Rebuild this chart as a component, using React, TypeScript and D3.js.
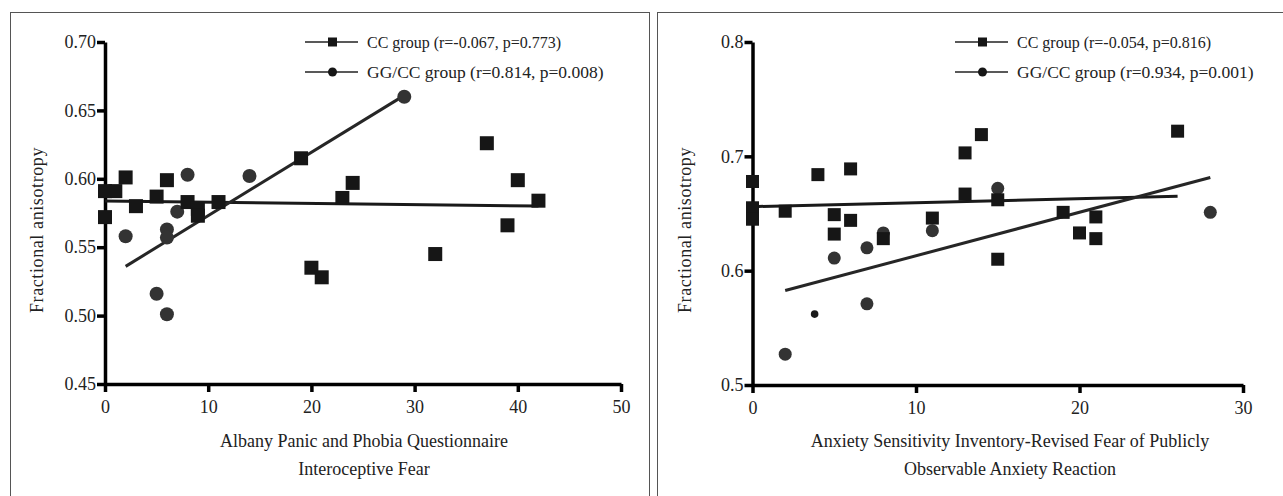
import React, { useEffect, useRef } from "react";
import * as d3 from "d3";

// left panel: Albany Panic and Phobia Questionnaire, Interoceptive Fear
const apX = [0, 0, 1, 2, 3, 5, 6, 8, 9, 9, 11, 19, 20, 21, 23, 24, 32, 37, 39, 40, 42];
const apY = [0.591, 0.572, 0.591, 0.601, 0.580, 0.587, 0.599, 0.583, 0.578, 0.573, 0.583, 0.615, 0.535, 0.528, 0.586, 0.597, 0.545, 0.626, 0.566, 0.599, 0.584];
const apGgX = [2, 5, 6, 6, 6, 7, 8, 14, 29];
const apGgY = [0.558, 0.516, 0.563, 0.557, 0.501, 0.576, 0.603, 0.602, 0.660];
const apFitCcX = [0, 42];
const apFitCcY = [0.5838, 0.5801];
const apFitGgX = [2, 29];
const apFitGgY = [0.536, 0.661];
const apXTicks = [0, 10, 20, 30, 40, 50];
const apYTicks = [0.45, 0.5, 0.55, 0.6, 0.65, 0.7];
const apLegend = ["CC group (r=-0.067, p=0.773)", "GG/CC group (r=0.814, p=0.008)"];
const apTitle = ["Albany Panic and Phobia Questionnaire", "Interoceptive Fear"];

// right panel: ASI-R Fear of Publicly Observable Anxiety Reaction
const asX = [0, 0, 0, 2, 4, 5, 5, 6, 6, 8, 11, 13, 13, 14, 15, 15, 19, 20, 21, 21, 26];
const asY = [0.678, 0.655, 0.645, 0.652, 0.684, 0.649, 0.632, 0.689, 0.644, 0.628, 0.646, 0.703, 0.667, 0.719, 0.662, 0.610, 0.651, 0.633, 0.647, 0.628, 0.722];
const asGgX = [2, 5, 7, 7, 8, 11, 15, 28];
const asGgY = [0.527, 0.611, 0.620, 0.571, 0.633, 0.635, 0.672, 0.651];
const asGgSmallX = [3.8];
const asGgSmallY = [0.562];
const asFitCcX = [0, 26];
const asFitCcY = [0.656, 0.665];
const asFitGgX = [2, 28];
const asFitGgY = [0.5826, 0.6815];
const asXTicks = [0, 10, 20, 30];
const asYTicks = [0.5, 0.6, 0.7, 0.8];
const asLegend = ["CC group (r=-0.054, p=0.816)", "GG/CC group (r=0.934, p=0.001)"];
const asTitle = ["Anxiety Sensitivity Inventory-Revised Fear of Publicly", "Observable Anxiety Reaction"];

const FONT = "'Liberation Serif', 'DejaVu Serif', serif";

function drawPanel(svg, p) {
  const x = d3.scaleLinear().domain(p.xDomain).range([p.left, p.right]);
  const y = d3.scaleLinear().domain(p.yDomain).range([p.bottom, p.top]);
  const g = svg.append("g");

  // frame
  g.append("rect")
    .attr("x", p.frame[0] + 0.5)
    .attr("y", 12.5)
    .attr("width", p.frame[1] - p.frame[0])
    .attr("height", 520)
    .attr("fill", "none")
    .attr("stroke", "#555")
    .attr("stroke-width", 1);

  // axes
  const xAxis = g.append("g")
    .attr("transform", `translate(0,${p.bottom})`)
    .call(d3.axisBottom(x).tickValues(p.xTicks).tickSize(8).tickSizeOuter(0).tickPadding(8).tickFormat(d3.format("d")));
  const yAxis = g.append("g")
    .attr("transform", `translate(${p.left},0)`)
    .call(d3.axisLeft(y).tickValues(p.yTicks).tickSize(8).tickSizeOuter(0).tickPadding(1).tickFormat(d3.format(p.yFormat)));
  [xAxis, yAxis].forEach((a) => {
    a.attr("font-family", FONT).attr("font-size", 18);
    a.select(".domain").attr("stroke", "#000").attr("stroke-width", 3.5);
    a.selectAll(".tick line").attr("stroke", "#000").attr("stroke-width", 3.5);
    a.selectAll(".tick text").attr("fill", "#222");
  });

  // fitted lines
  const line = d3.line().x((d) => x(d[0])).y((d) => y(d[1]));
  g.append("path")
    .attr("d", line(d3.zip(p.fitCcX, p.fitCcY)))
    .attr("fill", "none").attr("stroke", "#1a1a1a").attr("stroke-width", 3);
  g.append("path")
    .attr("d", line(d3.zip(p.fitGgX, p.fitGgY)))
    .attr("fill", "none").attr("stroke", "#262626").attr("stroke-width", 3);

  // circles (GG/CC)
  g.selectAll(null)
    .data(d3.zip(p.ggX, p.ggY))
    .enter()
    .append("circle")
    .attr("cx", (d) => x(d[0]))
    .attr("cy", (d) => y(d[1]))
    .attr("r", p.markR)
    .attr("fill", "#333");
  if (p.ggSmallX) {
    g.selectAll(null)
      .data(d3.zip(p.ggSmallX, p.ggSmallY))
      .enter()
      .append("circle")
      .attr("cx", (d) => x(d[0]))
      .attr("cy", (d) => y(d[1]))
      .attr("r", 3.8)
      .attr("fill", "#1a1a1a");
  }

  // squares (CC)
  g.selectAll(null)
    .data(d3.zip(p.ccX, p.ccY))
    .enter()
    .append("rect")
    .attr("x", (d) => x(d[0]) - p.markR)
    .attr("y", (d) => y(d[1]) - p.markR)
    .attr("width", p.markR * 2)
    .attr("height", p.markR * 2)
    .attr("fill", "#161616");

  // legend
  const lg = g.append("g").attr("font-family", FONT).attr("fill", "#222");
  p.legend.forEach((label, i) => {
    const ly = 42 + i * 30;
    lg.append("line")
      .attr("x1", p.legendX).attr("x2", p.legendX + 53)
      .attr("y1", ly).attr("y2", ly)
      .attr("stroke", "#222").attr("stroke-width", 1.4);
    if (i === 0) {
      lg.append("rect")
        .attr("x", p.legendX + 23).attr("y", ly - 4.5)
        .attr("width", 9).attr("height", 9).attr("fill", "#161616");
    } else {
      lg.append("circle")
        .attr("cx", p.legendX + 27.5).attr("cy", ly).attr("r", 4.5).attr("fill", "#161616");
    }
    lg.append("text")
      .attr("x", p.legendX + 62)
      .attr("y", ly)
      .attr("dy", "0.35em")
      .attr("font-size", i === 0 ? 16 : 17.5)
      .text(label);
  });

  // axis titles
  g.append("text")
    .attr("transform", `translate(${p.left - 62},${p.yTitleY}) rotate(-90)`)
    .attr("text-anchor", "middle")
    .attr("font-family", FONT)
    .attr("font-size", 18)
    .attr("letter-spacing", 0.6)
    .attr("fill", "#222")
    .text("Fractional anisotropy");
  p.title.forEach((t, i) => {
    g.append("text")
      .attr("x", p.titleX)
      .attr("y", 447 + i * 28)
      .attr("text-anchor", "middle")
      .attr("font-family", FONT)
      .attr("font-size", 18)
      .attr("fill", "#222")
      .text(t);
  });
}

export default function App() {
  const svgRef = useRef(null);

  useEffect(() => {
    const svg = d3.select(svgRef.current);
    svg.selectAll("*").remove();

    drawPanel(svg, {
      frame: [10, 649],
      left: 105, right: 621, top: 42, bottom: 384,
      xDomain: [0, 50], yDomain: [0.45, 0.7],
      xTicks: apXTicks, yTicks: apYTicks, yFormat: ".2f",
      ccX: apX, ccY: apY, ggX: apGgX, ggY: apGgY,
      fitCcX: apFitCcX, fitCcY: apFitCcY, fitGgX: apFitGgX, fitGgY: apFitGgY,
      markR: 7,
      legend: apLegend, legendX: 305,
      title: apTitle, titleX: 364, yTitleY: 230,
    });

    drawPanel(svg, {
      frame: [657, 1290],
      left: 752.5, right: 1243, top: 42, bottom: 385,
      xDomain: [0, 30], yDomain: [0.5, 0.8],
      xTicks: asXTicks, yTicks: asYTicks, yFormat: ".1f",
      ccX: asX, ccY: asY, ggX: asGgX, ggY: asGgY,
      ggSmallX: asGgSmallX, ggSmallY: asGgSmallY,
      fitCcX: asFitCcX, fitCcY: asFitCcY, fitGgX: asFitGgX, fitGgY: asFitGgY,
      markR: 6.5,
      legend: asLegend, legendX: 955,
      title: asTitle, titleX: 1010, yTitleY: 230,
    });
  }, []);

  return (
    <svg
      ref={svgRef}
      width={1283}
      height={496}
      style={{ position: "absolute", left: 0, top: 0, background: "#fff" }}
    ></svg>
  );
}
